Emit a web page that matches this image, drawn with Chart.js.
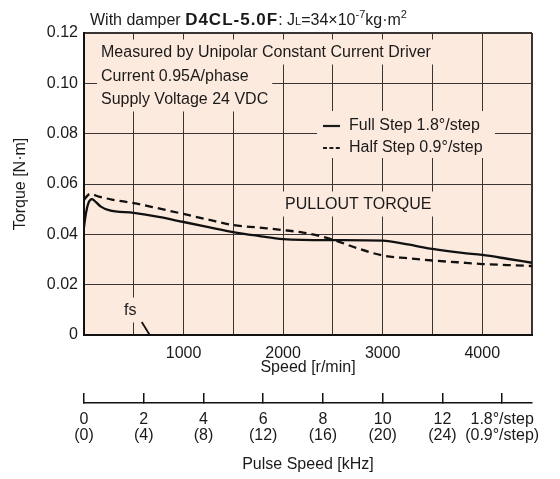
<!DOCTYPE html>
<html>
<head>
<meta charset="utf-8">
<title>D4CL-5.0F pullout torque</title>
<script src="https://cdn.jsdelivr.net/npm/chart.js@4.4.1/dist/chart.umd.min.js"></script>
<style>
  html, body { margin: 0; padding: 0; background: #fff; }
  #wrap { width: 560px; height: 479px; }
</style>
</head>
<body>
<div id="wrap"><canvas id="torqueChart" width="560" height="479"></canvas></div>
<script>
// Full step 1.8°/step (solid)
const fullRpm    = [0, 20, 45, 80, 120, 170, 250, 500, 750, 1000, 1250, 1500, 1750, 2000, 2500, 3000, 3250, 3500, 3800, 4000, 4250, 4500];
const fullTorque = [0.0429, 0.0485, 0.0525, 0.0540, 0.0528, 0.0510, 0.0496, 0.0485, 0.0469, 0.0449, 0.0429, 0.0409, 0.0394, 0.0381, 0.0377, 0.0375, 0.0360, 0.0342, 0.0326, 0.0318, 0.0303, 0.0287];

// Half step 0.9°/step (dashed)
const halfRpm    = [0, 30, 60, 150, 280, 500, 750, 1000, 1250, 1500, 1750, 2000, 2200, 2400, 2550, 2750, 3000, 3250, 3500, 3750, 4000, 4250, 4500];
const halfTorque = [0.0536, 0.0552, 0.0560, 0.0550, 0.0538, 0.0524, 0.0503, 0.0481, 0.0458, 0.0437, 0.0427, 0.0417, 0.0407, 0.0390, 0.0372, 0.0344, 0.0316, 0.0305, 0.0296, 0.0289, 0.0282, 0.0278, 0.0274];

// fs marker line
const fsRpm    = [580, 660];
const fsTorque = [0.0052, 0];

// Axes
const rpmMax = 4500;
const rpmPerKHz = 300;      // 1 kHz at 1.8°/step = 300 r/min
const torqueMax = 0.12;
const pulseTicks  = [0, 2, 4, 6, 8, 10, 12, 14];
const pulseTop    = ['0', '2', '4', '6', '8', '10', '12', '1.8°/step'];
const pulseBottom = ['(0)', '(4)', '(8)', '(12)', '(16)', '(20)', '(24)', '(0.9°/step)'];

const FONT = "'Liberation Sans', Arial, sans-serif";
const INK = '#1a1a1a';
const GRID = '#3a3535';
const PLOT_BG = '#fdeade';

Chart.defaults.font.family = FONT;
Chart.defaults.font.size = 16;
Chart.defaults.color = INK;

function pts(xs, ys) {
    return xs.map(function (x, i) { return { x: x, y: ys[i] }; });
}

// text lines drawn inside the plot with a patch of background behind them
// (notes in the same group share one box width)
const notes = [
    { text: 'Measured by Unipolar Constant Current Driver', x: 101, y: 52, group: 'a' },
    { text: 'Current 0.95A/phase', x: 101, y: 76, group: 'b' },
    { text: 'Supply Voltage 24 VDC', x: 101, y: 99, group: 'b' },
    { text: 'PULLOUT TORQUE', x: 285, y: 204, group: 'c' },
    { text: 'fs', x: 124, y: 310, group: 'd' }
];

const plotDecor = {
    id: 'plotDecor',
    beforeDraw(chart) {
        const c = chart.ctx, a = chart.chartArea;
        c.save();
        c.fillStyle = '#fff';
        c.fillRect(0, 0, chart.width, chart.height);
        c.fillStyle = PLOT_BG;
        c.fillRect(a.left, a.top, a.right - a.left, a.bottom - a.top);
        c.restore();
    },
    beforeDatasetsDraw(chart) {
        const c = chart.ctx;
        c.save();
        c.font = '16px ' + FONT;
        c.textBaseline = 'middle';
        const widths = {};
        notes.forEach(function (n) {
            widths[n.group] = Math.max(widths[n.group] || 0, c.measureText(n.text).width);
        });
        notes.forEach(function (n) {
            c.fillStyle = PLOT_BG;
            c.fillRect(n.x - 4, n.y - 12.5, widths[n.group] + 8, 25);
        });
        notes.forEach(function (n) {
            c.fillStyle = INK;
            c.fillText(n.text, n.x, n.y + 1);
        });

        // legend
        c.fillStyle = PLOT_BG;
        c.fillRect(317, 111, 178, 47);
        c.fillStyle = INK;
        c.fillText('Full Step 1.8°/step', 349, 126);
        c.fillText('Half Step 0.9°/step', 349, 148);
        c.strokeStyle = INK;
        c.lineWidth = 2.2;
        c.beginPath();
        c.moveTo(323, 126); c.lineTo(340, 126);
        c.stroke();
        c.setLineDash([4, 2.4]);
        c.beginPath();
        c.moveTo(323, 148); c.lineTo(340, 148);
        c.stroke();
        c.restore();
    },
    afterDraw(chart) {
        const c = chart.ctx;
        const runs = [
            { t: 'With damper ', f: '16px ' + FONT, dy: 0 },
            { t: 'D4CL-5.0F', f: 'bold 17px ' + FONT, dy: 0, ls: '1px' },
            { t: ': J', f: '16px ' + FONT, dy: 0 },
            { t: 'L', f: '11px ' + FONT, dy: 0 },
            { t: '=34×10', f: '16px ' + FONT, dy: 0 },
            { t: '-7', f: '11px ' + FONT, dy: -7 },
            { t: 'kg·m', f: '16px ' + FONT, dy: 0 },
            { t: '2', f: '11px ' + FONT, dy: -7 }
        ];
        let x = 90;
        const base = 25;
        c.save();
        c.fillStyle = INK;
        c.textBaseline = 'alphabetic';
        runs.forEach(function (r) {
            c.font = r.f;
            c.letterSpacing = r.ls || '0px';
            c.fillText(r.t, x, base + r.dy);
            x += c.measureText(r.t).width;
        });
        c.restore();
    }
};

document.addEventListener('DOMContentLoaded', function () {
    const ctx = document.getElementById('torqueChart');

    new Chart(ctx, {
        type: 'line',
        data: {
            datasets: [{
                label: 'Full Step 1.8°/step',
                data: pts(fullRpm, fullTorque),
                borderColor: '#111',
                borderWidth: 2.3,
                pointRadius: 0,
                cubicInterpolationMode: 'monotone'
            }, {
                label: 'Half Step 0.9°/step',
                data: pts(halfRpm, halfTorque),
                borderColor: '#111',
                borderWidth: 2.3,
                borderDash: [8, 5],
                pointRadius: 0,
                cubicInterpolationMode: 'monotone'
            }, {
                label: 'fs',
                data: pts(fsRpm, fsTorque),
                borderColor: '#111',
                borderWidth: 1.8,
                pointRadius: 0,
                tension: 0
            }]
        },
        options: {
            responsive: false,
            animation: false,
            layout: { padding: { top: 33, right: 23, left: 0, bottom: 0 } },
            plugins: {
                legend: { display: false },
                tooltip: { enabled: false }
            },
            scales: {
                x: {
                    type: 'linear',
                    position: 'bottom',
                    weight: 0,
                    min: 0,
                    max: rpmMax,
                    ticks: {
                        stepSize: 500,
                        autoSkip: false,
                        maxRotation: 0,
                        padding: 9,
                        callback: function (v) {
                            return (v > 0 && v < rpmMax && v % 1000 === 0) ? String(v) : '';
                        }
                    },
                    grid: {
                        color: GRID,
                        lineWidth: function (c) { return c.tick && c.tick.value === rpmMax ? 2 : 1; },
                        drawTicks: false
                    },
                    border: { color: '#111', width: 2 },
                    title: { display: true, text: 'Speed [r/min]', padding: { top: 0, bottom: 26 } },
                    afterFit: function (s) { s.height = 68; }
                },
                x2: {
                    type: 'linear',
                    position: 'bottom',
                    weight: 1,
                    min: 0,
                    max: rpmMax / rpmPerKHz,
                    afterBuildTicks: function (s) {
                        s.ticks = pulseTicks.map(function (v) { return { value: v }; });
                    },
                    ticks: {
                        autoSkip: false,
                        maxRotation: 0,
                        padding: 19,
                        font: { size: 16, lineHeight: 1 },
                        callback: function (v, i) { return [pulseTop[i], pulseBottom[i]]; }
                    },
                    grid: {
                        drawOnChartArea: false,
                        tickLength: -10,
                        color: '#111',
                        lineWidth: 1.5
                    },
                    border: { color: '#111', width: 1.5 },
                    title: { display: true, text: 'Pulse Speed [kHz]', padding: { top: 0, bottom: 5 } },
                    afterFit: function (s) { s.height = 76; }
                },
                y: {
                    type: 'linear',
                    min: 0,
                    max: torqueMax,
                    ticks: {
                        stepSize: 0.02,
                        autoSkip: false,
                        padding: 6,
                        callback: function (v) { return v === 0 ? '0' : v.toFixed(2); }
                    },
                    grid: {
                        color: GRID,
                        lineWidth: function (c) { return c.tick && Math.abs(c.tick.value - torqueMax) < 1e-9 ? 2 : 1; },
                        drawTicks: false
                    },
                    border: { color: '#111', width: 2 },
                    title: { display: true, text: 'Torque [N·m]', padding: { top: 11, bottom: 0 } },
                    afterFit: function (s) { s.width = 84; }
                }
            }
        },
        plugins: [plotDecor]
    });
});
</script>
</body>
</html>
